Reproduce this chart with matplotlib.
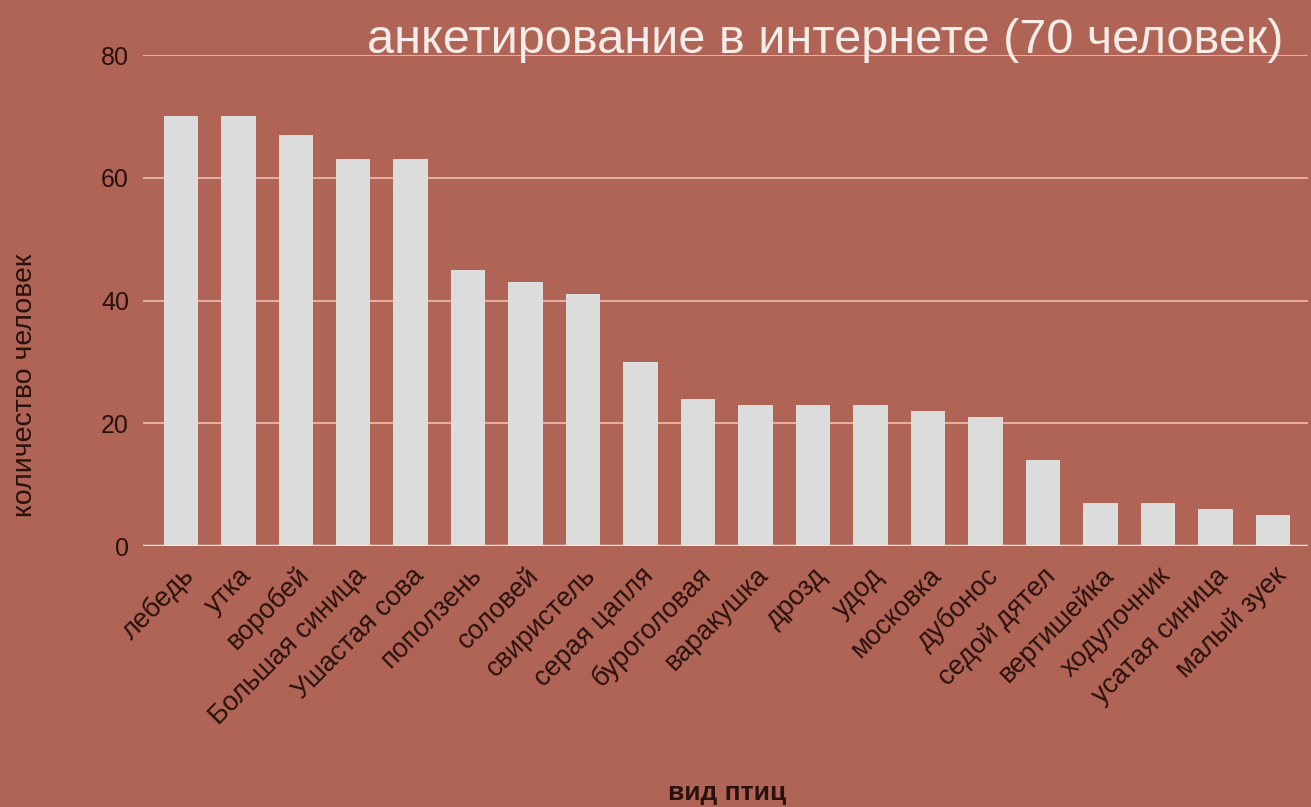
import matplotlib.pyplot as plt

birds = [
    "лебедь", "утка", "воробей", "Большая синица", "Ушастая сова",
    "поползень", "соловей", "свиристель", "серая цапля", "буроголовая",
    "варакушка", "дрозд", "удод", "московка", "дубонос", "седой дятел",
    "вертишейка", "ходулочник", "усатая синица", "малый зуек",
]
counts = [70, 70, 67, 63, 63, 45, 43, 41, 30, 24, 23, 23, 23, 22, 21, 14, 7, 7, 6, 5]
y_ticks = [0, 20, 40, 60, 80]

bg = "#b06455"
bar_color = "#dcdcdc"
grid_color = "#eebfae"
text_color = "#2a110d"

plt.rcParams["font.family"] = ["Liberation Sans", "DejaVu Sans"]

fig = plt.figure(figsize=(13.11, 8.07), dpi=100, facecolor=bg)
ax = fig.add_axes([0.109, 0.3234, 0.889, 0.6084], facecolor=bg)

x = list(range(len(counts)))
ax.bar(x, counts, width=0.6, color=bar_color, zorder=3)

ax.set_ylim(0, 80)
ax.set_xlim(-0.66, len(counts) - 0.38)
ax.set_yticks(y_ticks)
ax.grid(axis="y", color=grid_color, linewidth=1.2, zorder=1)
ax.axhline(0, color="#f6e4dc", linewidth=2.5, zorder=4)

for side in ["top", "right", "left", "bottom"]:
    ax.spines[side].set_visible(False)

ax.tick_params(axis="both", length=0, colors=text_color)
ax.tick_params(axis="y", labelsize=18, pad=10)
ax.set_xticks(x)
ax.set_xticklabels(
    birds, rotation=45, ha="right", rotation_mode="anchor",
    fontsize=19.5, color=text_color,
)
ax.tick_params(axis="x", pad=12)

fig.text(0.019, 0.523, "количество человек", rotation=90, ha="center",
         va="center", fontsize=20.5, color=text_color)
fig.text(0.555, 0.017, "вид птиц", ha="center", va="center",
         fontsize=19, color=text_color, fontweight="bold")

fig.text(0.979, 0.950, "анкетирование в интернете (70 человек)",
         ha="right", va="center", fontsize=35, color="#f7ece8")

fig.savefig("out.png", dpi=100, facecolor=bg)
